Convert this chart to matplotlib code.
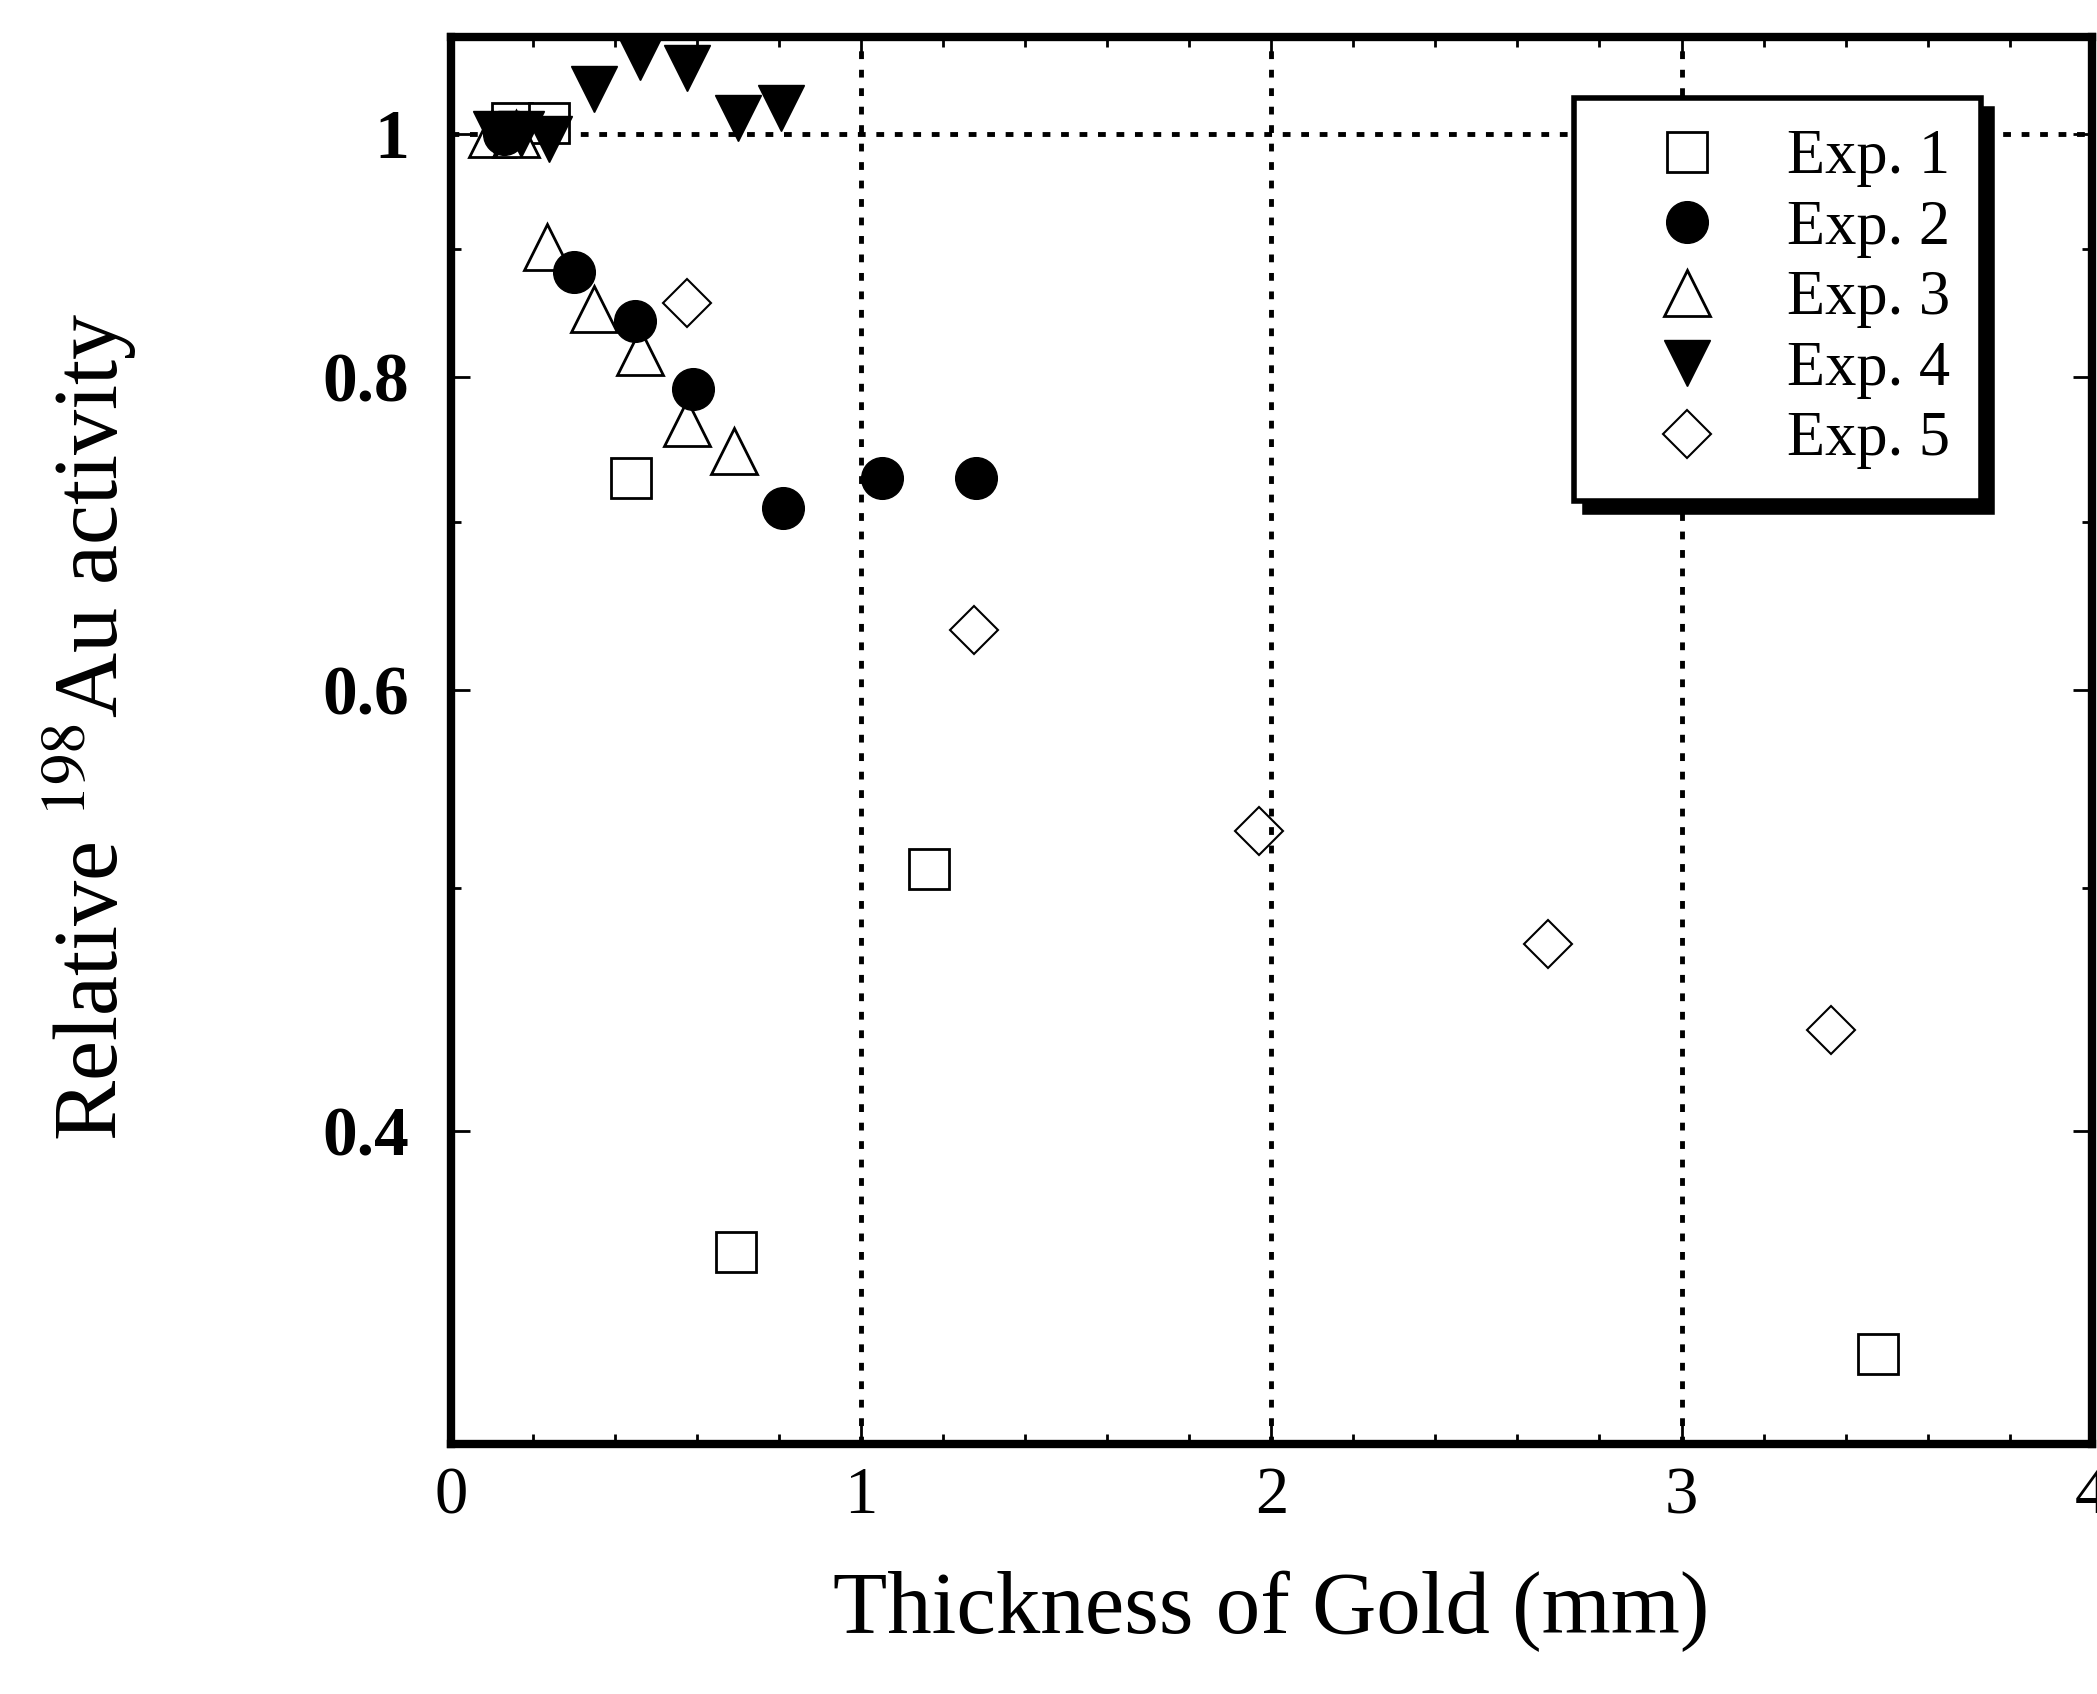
import matplotlib
matplotlib.use("Agg")
import matplotlib.pyplot as plt
from matplotlib.ticker import FixedLocator, FixedFormatter, NullFormatter, MultipleLocator

plt.rcParams["font.family"] = ["Liberation Serif", "DejaVu Serif"]
plt.rcParams["mathtext.fontset"] = "stix"

# values
exp1_x = [0.15, 0.24, 0.44, 0.695, 1.165, 3.48]
exp1_y = [1.01, 1.01, 0.729, 0.358, 0.509, 0.326]
exp2_x = [0.13, 0.30, 0.45, 0.59, 0.81, 1.05, 1.28]
exp2_y = [1.0, 0.881, 0.842, 0.791, 0.709, 0.729, 0.729]
exp3_x = [0.10, 0.16, 0.235, 0.35, 0.46, 0.575, 0.69]
exp3_y = [1.0, 1.0, 0.901, 0.851, 0.818, 0.767, 0.747]
exp4_x = [0.11, 0.17, 0.24, 0.35, 0.46, 0.575, 0.70, 0.805]
exp4_y = [1.0, 1.0, 0.995, 1.042, 1.073, 1.062, 1.015, 1.024]
exp5_x = [0.575, 1.275, 1.97, 2.675, 3.365]
exp5_y = [0.856, 0.634, 0.527, 0.475, 0.439]

labels = ["Exp. 1", "Exp. 2", "Exp. 3", "Exp. 4", "Exp. 5"]
x_ticks = [0, 1, 2, 3, 4]
x_tick_labels = ["0", "1", "2", "3", "4"]
y_ticks = [0.4, 0.6, 0.8, 1.0]
y_tick_labels = ["0.4", "0.6", "0.8", "1"]
y_minor = [0.3, 0.5, 0.7, 0.9]

fig = plt.figure(figsize=(20.97, 16.94), dpi=100)
ax = fig.add_axes([0.215, 0.1476, 0.7825, 0.8305])

# dotted reference lines
dot = dict(color="black", lw=3.5, ls=(0, (1.6, 2.2)), zorder=1)
for xv in [1, 2, 3]:
    ax.axvline(xv, **dot)
ax.axhline(1.0, **dot)

h1, = ax.plot(exp1_x, exp1_y, "s", ms=29, mfc="white", mec="black", mew=2, zorder=3)
h2, = ax.plot(exp2_x, exp2_y, "o", ms=30, mfc="black", mec="black", zorder=4)
h3, = ax.plot(exp3_x, exp3_y, "^", ms=33, mfc="white", mec="black", mew=2, zorder=3)
h4, = ax.plot(exp4_x, exp4_y, "v", ms=33, mfc="black", mec="black", zorder=4)
h5, = ax.plot(exp5_x, exp5_y, "D", ms=24, mfc="none", mec="black", mew=1.5, zorder=3)

ax.set_yscale("log")
ax.set_xlim(0, 4)
ax.set_ylim(0.3, 1.093)

ax.xaxis.set_major_locator(FixedLocator(x_ticks))
ax.xaxis.set_major_formatter(FixedFormatter(x_tick_labels))
ax.xaxis.set_minor_locator(MultipleLocator(0.2))
ax.yaxis.set_major_locator(FixedLocator(y_ticks))
ax.yaxis.set_major_formatter(FixedFormatter(y_tick_labels))
ax.yaxis.set_minor_locator(FixedLocator(y_minor))
ax.yaxis.set_minor_formatter(NullFormatter())

ax.tick_params(which="both", direction="in", top=True, right=True, width=2)
ax.tick_params(which="major", length=14)
ax.tick_params(which="minor", length=7)
ax.tick_params(axis="x", labelsize=48, pad=16)
ax.tick_params(axis="y", labelsize=50, pad=30)
for t in ax.get_yticklabels():
    t.set_fontweight("bold")

for s in ax.spines.values():
    s.set_linewidth(6)

ax.set_xlabel("Thickness of Gold (mm)", fontsize=64)
ax.xaxis.set_label_coords(0.5, -0.09)
ax.set_ylabel("Relative $^{198}$Au activity", fontsize=65)
ax.yaxis.set_label_coords(-0.19, 0.51)

leg = ax.legend([h1, h2, h3, h4, h5], labels, loc="upper left",
                bbox_to_anchor=(0.6845, 0.9566), borderaxespad=0, fontsize=45,
                fancybox=False, framealpha=1, edgecolor="black",
                borderpad=0.5, handlelength=2.6, handletextpad=0.3,
                labelspacing=0.2,
                shadow={"ox": 8, "oy": -8, "facecolor": "black", "edgecolor": "black", "alpha": 1})
leg.get_frame().set_linewidth(4)

fig.savefig("out.png", dpi=100)
